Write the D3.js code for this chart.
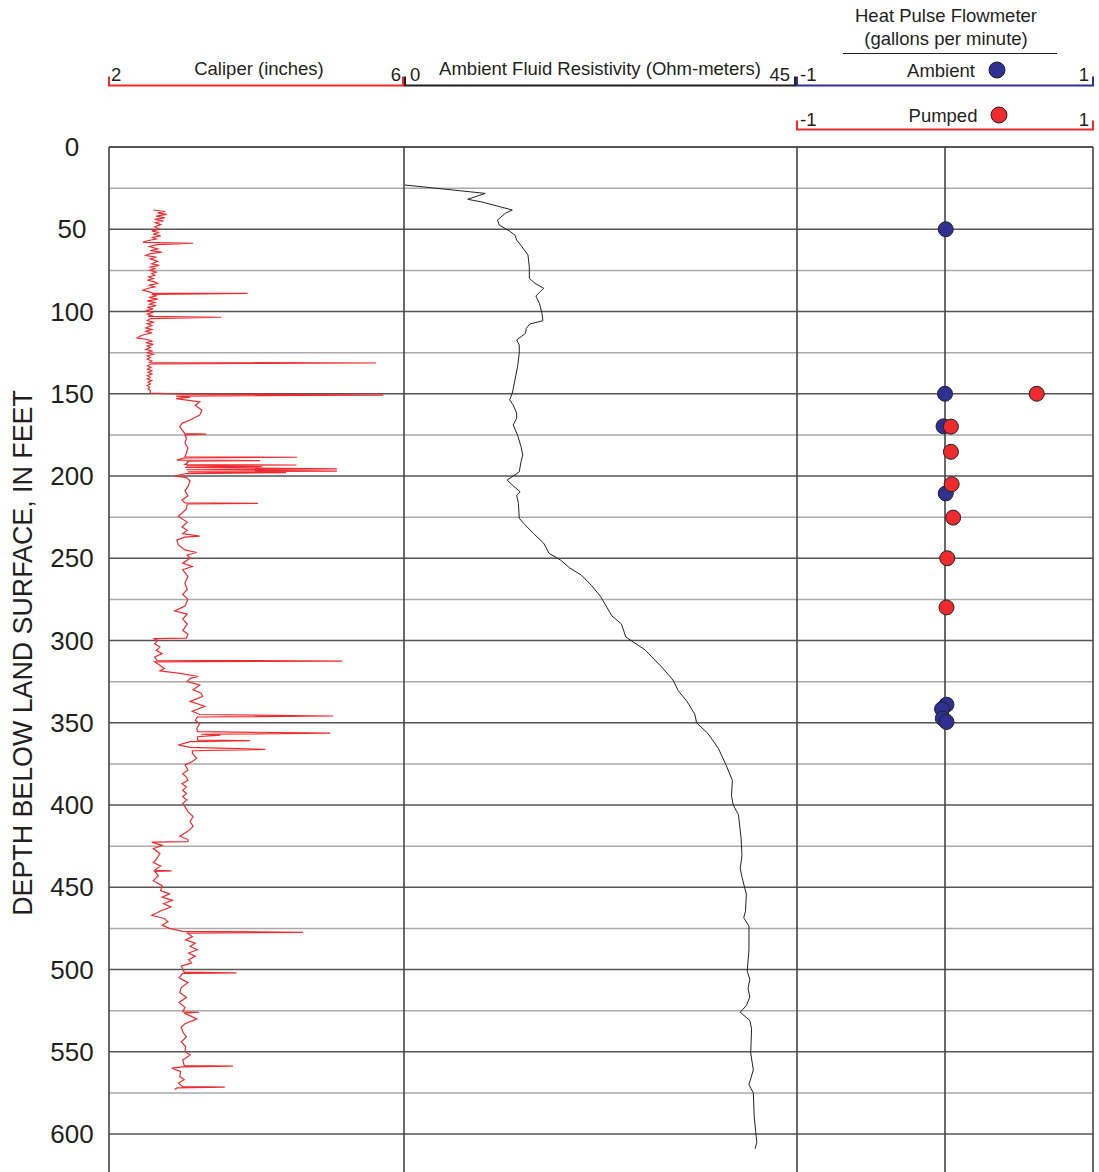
<!DOCTYPE html>
<html>
<head>
<meta charset="utf-8">
<script src="https://cdn.jsdelivr.net/npm/d3@7"></script>
<style>
  body { margin: 0; background: #fff; }
  svg text { font-family: "Liberation Sans", Arial, sans-serif; fill: #231f20; }
</style>
</head>
<body>
<svg id="svg" width="1099" height="1172"></svg>
<script>
// caliper log: [depth ft, diameter inches]
var caliper = [
 [38.3,2.60],[39.2,2.76],[40,2.66],[41,2.78],[42,2.64],[43,2.76],[44,2.62],[45,2.74],[46,2.63],
 [47.2,2.70],[48.5,2.62],[50,2.69],[51,2.58],[52,2.68],[53,2.60],[54,2.70],[55,2.59],[56,2.64],
 [57,2.52],[58,2.46],[58.5,3.14],[59.3,2.65],[60.5,2.55],[62,2.66],[63,2.56],[64,2.72],[65,2.55],
 [66,2.50],[67,2.64],[68,2.56],[69.5,2.66],[71,2.58],[72,2.68],[73,2.56],[74,2.62],[75,2.55],
 [76,2.64],[77,2.58],[78,2.62],[79,2.54],[80,2.60],[81,2.52],[82,2.62],[83,2.66],[84,2.55],
 [85,2.62],[86,2.52],[87,2.46],[88.8,2.60],[89,3.88],[89.6,2.58],[90.5,2.64],[91.5,2.54],
 [92.5,2.66],[93.5,2.52],[94.5,2.62],[95.5,2.55],[96.5,2.64],[97.5,2.52],[98.5,2.60],[99.5,2.50],
 [100.5,2.60],[101.5,2.52],[102.5,2.58],[103,2.53],[103.5,3.52],[104.3,2.56],[105.5,2.52],
 [106.5,2.60],[107.5,2.52],[108.5,2.58],[110,2.50],[111,2.58],[112,2.50],[113,2.58],[114,2.48],
 [115,2.42],[116,2.38],[117,2.52],[118,2.58],[119,2.50],[120,2.60],[121,2.52],[122,2.56],
 [123,2.50],[124,2.58],[125,2.52],[126,2.60],[127,2.52],[128,2.56],[129,2.52],[130,2.58],
 [131,2.55],[131.3,5.62],[131.8,2.58],[133,2.52],[134,2.57],[135,2.52],[136,2.58],[137,2.53],
 [138,2.58],[139,2.52],[140,2.56],[141,2.52],[142,2.58],[143,2.53],[144,2.56],[145,2.52],
 [146,2.55],[147,2.53],[148,2.56],[149.6,2.56],[150.2,3.00],[150.8,5.72],
 [151.4,2.91],[152,3.10],[153,2.91],[155,3.23],[157,3.17],[160,3.26],[163,3.23],[166,3.10],
 [168,2.99],[170,2.96],[172,2.99],[174.2,3.03],[174.5,3.32],[175,3.03],[177,3.05],[180,3.03],
 [183,3.07],[186,3.05],[188.3,3.03],[188.6,4.55],[189,3.03],[190.3,2.92],[190.6,4.05],[191,3.06],
 [191.8,3.07],[193,3.03],[193.3,4.54],[193.7,3.05],[194.3,4.07],[194.8,3.03],[195.7,5.09],
 [196.2,3.05],[197,5.09],[197.5,3.07],[198,4.40],[198.5,3.05],[200,2.89],[201,3.05],[203,3.10],
 [206.5,3.07],[209,3.03],[212,3.07],[214.6,2.99],[216.3,3.03],[216.6,4.02],[217,3.06],[220,3.05],
 [224.6,2.94],[228,3.06],[231,2.99],[233,3.06],[235,3.00],[236.6,3.23],[237.2,3.03],[238.8,2.92],
 [241.9,2.94],[244.9,3.03],[246.5,3.19],[248,3.06],[250,3.10],[253,3.00],[255,3.13],[257,3.00],
 [261,3.07],[265,3.03],[269,3.06],[272,3.00],[275,3.07],[279,3.03],[282,2.89],[284,3.06],
 [287,3.00],[290,3.06],[294,3.00],[296,3.07],[298.5,3.05],[298.8,2.60],[300,2.66],[302,2.62],
 [304,2.69],[306,2.64],[308,2.72],[310,2.62],[312,2.65],[312.5,5.16],[313,2.62],[315,2.69],
 [317,2.75],[318.5,2.69],[320,2.96],[321.9,3.21],[323,3.10],[325,3.06],[327,3.23],[330,3.14],
 [332,3.25],[334,3.27],[337,3.10],[340,3.30],[343,3.13],[345,3.23],[345.9,5.04],[346.5,3.20],
 [348.5,3.17],[350.5,3.23],[353.5,3.19],[355.4,3.20],[356.3,5.00],[357,3.25],[357.5,3.51],
 [358.5,3.20],[360.6,3.20],[360.9,3.91],[361.5,3.10],[363.5,2.94],[365,3.10],[366.2,4.12],
 [367,3.13],[368.6,3.13],[371.6,3.19],[373.6,3.13],[375.6,3.03],[378.7,3.07],[381,3.00],
 [383,3.05],[385,3.07],[387,2.99],[389,3.05],[391,3.00],[393,3.05],[395,3.00],[397,3.06],
 [399,3.00],[401,3.03],[404,3.07],[407,3.14],[410,3.10],[413,3.14],[416,3.07],[419,2.96],
 [421,3.07],[422.3,3.07],[422.6,2.58],[424.5,2.72],[426.5,2.60],[429.5,2.69],[432.6,2.65],
 [435,2.60],[437,2.70],[439.7,2.62],[440,2.85],[440.4,2.62],[443,2.67],[446,2.60],[449,2.72],
 [452,2.70],[454,2.82],[456,2.72],[458,2.86],[460,2.74],[462,2.84],[464,2.72],[467,2.58],
 [469,2.75],[471,2.80],[473,2.72],[475,2.82],[476.8,3.00],[477.4,4.63],[477.9,3.06],[480,3.13],
 [482,3.04],[484,3.17],[486,3.10],[488,3.20],[490,3.08],[492,3.17],[494,3.08],[496,3.12],
 [498,2.98],[501.6,3.02],[502,3.73],[502.4,3.00],[505,2.95],[508,3.07],[511,2.98],[514,2.96],
 [517,3.05],[520,2.95],[523,3.03],[525.7,3.00],[526,3.22],[526.5,3.02],[530,3.19],[533,3.03],
 [535,2.98],[538,3.00],[541,3.05],[544,2.98],[547,3.04],[550,3.03],[552,3.10],[555,3.00],
 [558.4,3.02],[558.7,3.68],[559.2,3.00],[560,2.85],[562,2.97],[565,2.96],[567,3.02],[569,2.94],
 [571.2,3.00],[571.5,3.57],[572,2.92],[573,2.89]
];

// ambient fluid resistivity: [depth ft, ohm-m]
var resistivity = [
 [23.1,0.1],[28.2,9.3],[31.8,7.3],[33.4,8.9],[38.3,12.4],[40.3,11.6],[44.4,10.7],[47.4,10.9],
 [50.5,11.9],[53.5,12.7],[56.5,12.9],[60.6,13.5],[65.7,14.2],[72.9,14.35],[79.8,14.35],[82.9,15.0],
 [85.9,16.0],[87.9,15.6],[90.6,15.1],[95,15.5],[101.1,15.8],[105.6,15.9],[107.6,14.4],[110.3,14.0],
 [113.3,13.9],[117.3,12.9],[120.4,13.2],[125.4,13.2],[133.6,13.0],[141.7,12.7],[149.7,12.4],
 [153.7,12.1],[156.8,12.5],[161.8,12.9],[164.9,12.9],[169,12.5],[175.1,13.0],[182.2,13.4],
 [187.2,13.6],[191.3,13.4],[197.4,13.2],[199.4,12.7],[202.4,11.8],[205.5,12.4],[209.6,13.3],
 [211.6,12.9],[216.6,13.1],[225.7,13.2],[228.8,13.7],[234.8,14.8],[240.9,16.0],[243.9,16.3],
 [247,16.6],[251,17.9],[256,19.0],[260.2,20.3],[266.7,21.5],[273.2,22.5],[285,23.8],[290,24.9],
 [297.9,25.4],[305.7,27.6],[316.1,29.5],[324,30.8],[330.5,31.4],[337,32.4],[344.8,33.3],
 [350,33.5],[356.5,34.8],[365.6,36.0],[376,36.9],[385,37.6],[394.3,37.5],[400,37.7],[406,38.3],
 [420.3,38.6],[430.7,38.7],[438.5,38.5],[443.8,38.7],[454.2,39.2],[464.6,39.1],[468.5,38.9],
 [473.7,39.5],[488,39.5],[501,39.3],[506,39.6],[511.5,39.4],[516.7,39.6],[521.9,39.2],[526,38.5],
 [531,39.6],[536,39.8],[550.8,39.7],[561,40.0],[570,39.5],[575,40.0],[589.6,40.1],[600,40.3],
 [605,40.4],[609,40.2]
];

// heat pulse flowmeter (gallons per minute)
var ambientDepth = [50, 150, 169.8, 210.6, 339, 341.7, 347.4, 349.5];
var ambientFlow  = [0.005, 0, -0.01, 0.005, 0.01, -0.02, -0.015, 0.01];
var pumpedDepth  = [150, 170, 185.3, 205, 225.3, 250, 279.9];
var pumpedFlow   = [0.62, 0.04, 0.04, 0.045, 0.055, 0.015, 0.01];

var depthTicks = [0, 50, 100, 150, 200, 250, 300, 350, 400, 450, 500, 550, 600];

var RED = "#ee2a2f", BLUE = "#2e3192";

var svg = d3.select("#svg");

var y = d3.scaleLinear().domain([0, 600]).range([147, 1134]);
var xCal = d3.scaleLinear().domain([2, 6]).range([109, 404]);
var xRes = d3.scaleLinear().domain([0, 45]).range([404, 797]);
var xFlow = d3.scaleLinear().domain([-1, 1]).range([797, 1093]);

var left = 109, right = 1093, bottom = 1172;

// horizontal grid, every 25 ft
var grid = svg.append("g");
grid.selectAll("line").data(d3.range(25, 625, 25)).enter().append("line")
    .attr("x1", left).attr("x2", right)
    .attr("y1", function(d) { return y(d); })
    .attr("y2", function(d) { return y(d); })
    .attr("stroke", function(d) { return d % 50 == 0 ? "#555" : "#aaa"; })
    .attr("stroke-width", 1.5);

// top border + column lines
svg.append("line").attr("x1", left).attr("x2", right)
    .attr("y1", y(0)).attr("y2", y(0))
    .attr("stroke", "#555").attr("stroke-width", 1.8);
var cols = [xCal(2), xCal(6), xRes(45), xFlow(0), xFlow(1)];
svg.selectAll(".col").data(cols).enter().append("line")
    .attr("class", "col")
    .attr("x1", function(d) { return d; }).attr("x2", function(d) { return d; })
    .attr("y1", y(0)).attr("y2", bottom)
    .attr("stroke", "#444").attr("stroke-width", 1.6);

// depth labels
svg.selectAll(".ytick").data(depthTicks).enter().append("text")
    .attr("class", "ytick")
    .attr("x", 72)
    .attr("y", function(d) { return y(d) + 9; })
    .attr("text-anchor", "middle")
    .style("font-size", "26px")
    .text(function(d) { return d; });

svg.append("text")
    .attr("transform", "translate(32,653) rotate(-90)")
    .attr("text-anchor", "middle")
    .style("font-size", "26.8px")
    .text("DEPTH BELOW LAND SURFACE, IN FEET");

// curves
var calLine = d3.line()
    .x(function(d) { return xCal(d[1]); })
    .y(function(d) { return y(d[0]); });
svg.append("path").datum(caliper)
    .attr("d", calLine)
    .attr("fill", "none").attr("stroke", RED).attr("stroke-width", 1.2);

var resLine = d3.line()
    .x(function(d) { return xRes(d[1]); })
    .y(function(d) { return y(d[0]); });
svg.append("path").datum(resistivity)
    .attr("d", resLine)
    .attr("fill", "none").attr("stroke", "#222").attr("stroke-width", 1);

// flowmeter points, ambient under pumped
svg.selectAll(".amb").data(ambientDepth).enter().append("circle")
    .attr("class", "amb")
    .attr("cx", function(d, i) { return xFlow(ambientFlow[i]); })
    .attr("cy", function(d) { return y(d); })
    .attr("r", 7.5)
    .attr("fill", BLUE).attr("stroke", "#222").attr("stroke-width", 1);
svg.selectAll(".pmp").data(pumpedDepth).enter().append("circle")
    .attr("class", "pmp")
    .attr("cx", function(d, i) { return xFlow(pumpedFlow[i]); })
    .attr("cy", function(d) { return y(d); })
    .attr("r", 7.5)
    .attr("fill", RED).attr("stroke", "#222").attr("stroke-width", 1);

// header scale bars
var bar = function(x0, x1, yy, col) {
    svg.append("path")
        .attr("d", "M" + x0 + "," + (yy - 9) + "V" + yy + "H" + x1 + "V" + (yy - 9))
        .attr("fill", "none").attr("stroke", col).attr("stroke-width", 2);
};
var label = function(x, yy, txt, anchor) {
    svg.append("text").attr("x", x).attr("y", yy)
        .attr("text-anchor", anchor)
        .style("font-size", "18.5px")
        .text(txt);
};

bar(xCal(2), xCal(6) - 1, 85.5, RED);
label(xCal(2) + 2, 81, "2", "start");
label(259, 75, "Caliper (inches)", "middle");
label(xCal(6) - 3, 81, "6", "end");

bar(xRes(0) + 1, xRes(45) - 2, 85.5, "#231f20");
label(xRes(0) + 6, 81, "0", "start");
label(600, 75, "Ambient Fluid Resistivity (Ohm-meters)", "middle");
label(xRes(45) - 7, 81, "45", "end");

bar(xFlow(-1), xFlow(1), 85.5, BLUE);
label(xFlow(-1) + 3, 81, "-1", "start");
label(941, 77, "Ambient", "middle");
label(xFlow(1) - 4, 81, "1", "end");
svg.append("circle").attr("cx", 997).attr("cy", 70).attr("r", 8)
    .attr("fill", BLUE).attr("stroke", "#222").attr("stroke-width", 1);

bar(xFlow(-1), xFlow(1), 129.5, RED);
label(xFlow(-1) + 3, 126, "-1", "start");
label(943, 122, "Pumped", "middle");
label(xFlow(1) - 4, 126, "1", "end");
svg.append("circle").attr("cx", 999).attr("cy", 115).attr("r", 8)
    .attr("fill", RED).attr("stroke", "#222").attr("stroke-width", 1);

label(946, 22, "Heat Pulse Flowmeter", "middle");
label(946, 45, "(gallons per minute)", "middle");
svg.append("line").attr("x1", 843).attr("x2", 1057).attr("y1", 53.5).attr("y2", 53.5)
    .attr("stroke", "#231f20").attr("stroke-width", 1);
</script>
</body>
</html>
